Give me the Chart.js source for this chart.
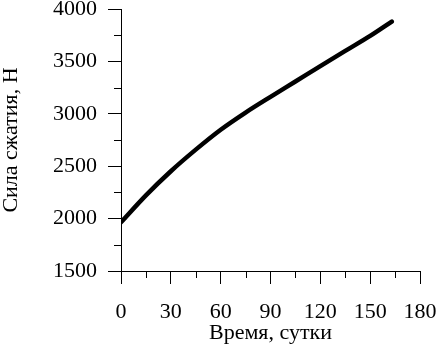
<!DOCTYPE html>
<html>
<head>
<meta charset="utf-8">
<script src="https://cdn.jsdelivr.net/npm/chart.js@4"></script>
<style>
  html, body { margin: 0; padding: 0; background: #fff; }
</style>
</head>
<body>
<canvas id="forceChart" width="437" height="349"></canvas>
<script>
// data
const days = [0, 15, 30, 45, 60, 75, 90, 105, 120, 135, 150, 163];
const force = [1965, 2222, 2452, 2658, 2848, 3012, 3162, 3308, 3455, 3600, 3743, 3880];
const xTicks = [0, 30, 60, 90, 120, 150, 180];
const yTicks = [1500, 2000, 2500, 3000, 3500, 4000];
const xMinor = [15, 45, 75, 105, 135, 165];
const yMinor = [1750, 2250, 2750, 3250, 3750];

const serif = "'Liberation Serif', 'Times New Roman', serif";

// short ticks between the labelled ones
const minorTicks = {
  id: "minorTicks",
  afterDraw(chart) {
    const { ctx } = chart;
    const x = chart.scales.x;
    const y = chart.scales.y;
    ctx.save();
    ctx.strokeStyle = "#000";
    ctx.lineWidth = 1;
    ctx.beginPath();
    xMinor.forEach((v) => {
      const px = Math.round(x.getPixelForValue(v)) + 0.5;
      ctx.moveTo(px, y.bottom);
      ctx.lineTo(px, y.bottom + 7);
    });
    yMinor.forEach((v) => {
      const py = Math.round(y.getPixelForValue(v)) + 0.5;
      ctx.moveTo(x.left - 7, py);
      ctx.lineTo(x.left, py);
    });
    ctx.stroke();
    ctx.restore();
  },
};

const chart = new Chart("forceChart", {
  type: "line",
  data: {
    datasets: [
      {
        data: days.map((d, i) => ({ x: d, y: force[i] })),
        borderColor: "#000",
        borderWidth: 4.5,
        borderCapStyle: "round",
        pointRadius: 0,
        cubicInterpolationMode: "monotone",
        fill: false,
      },
    ],
  },
  options: {
    responsive: false,
    animation: false,
    devicePixelRatio: 1,
    layout: { padding: { top: 9, right: 17, bottom: 0, left: 0 } },
    plugins: {
      legend: { display: false },
      tooltip: { enabled: false },
    },
    scales: {
      x: {
        type: "linear",
        min: 0,
        max: 180,
        afterBuildTicks: (s) => {
          s.ticks = xTicks.map((v) => ({ value: v }));
        },
        afterFit: (s) => {
          s.height = 78;
          s.paddingLeft = 0;
          s.paddingRight = 0;
        },
        border: { display: true, color: "#000", width: 1 },
        grid: { drawOnChartArea: false, tickLength: 13, tickColor: "#000", color: "#000" },
        ticks: {
          color: "#000",
          padding: 15,
          maxRotation: 0,
          autoSkip: false,
          font: { family: serif, size: 22 },
          callback: (v) => String(v),
        },
        title: {
          display: true,
          text: "Время, сутки",
          color: "#000",
          font: { family: serif, size: 22, lineHeight: 1 },
          padding: { top: 0, bottom: 5 },
        },
      },
      y: {
        min: 1500,
        max: 4000,
        afterBuildTicks: (s) => {
          s.ticks = yTicks.map((v) => ({ value: v }));
        },
        afterFit: (s) => {
          s.width = 121;
          s.paddingTop = 0;
          s.paddingBottom = 0;
        },
        border: { display: true, color: "#000", width: 1 },
        grid: { drawOnChartArea: false, tickLength: 13, tickColor: "#000", color: "#000" },
        ticks: {
          color: "#000",
          padding: 11,
          font: { family: serif, size: 22 },
          callback: (v) => String(v),
        },
        title: {
          display: true,
          text: "Сила сжатия, Н",
          color: "#000",
          font: { family: serif, size: 22, lineHeight: 1 },
          padding: { top: 0, bottom: 0 },
        },
      },
    },
  },
  plugins: [minorTicks],
});
</script>
</body>
</html>
